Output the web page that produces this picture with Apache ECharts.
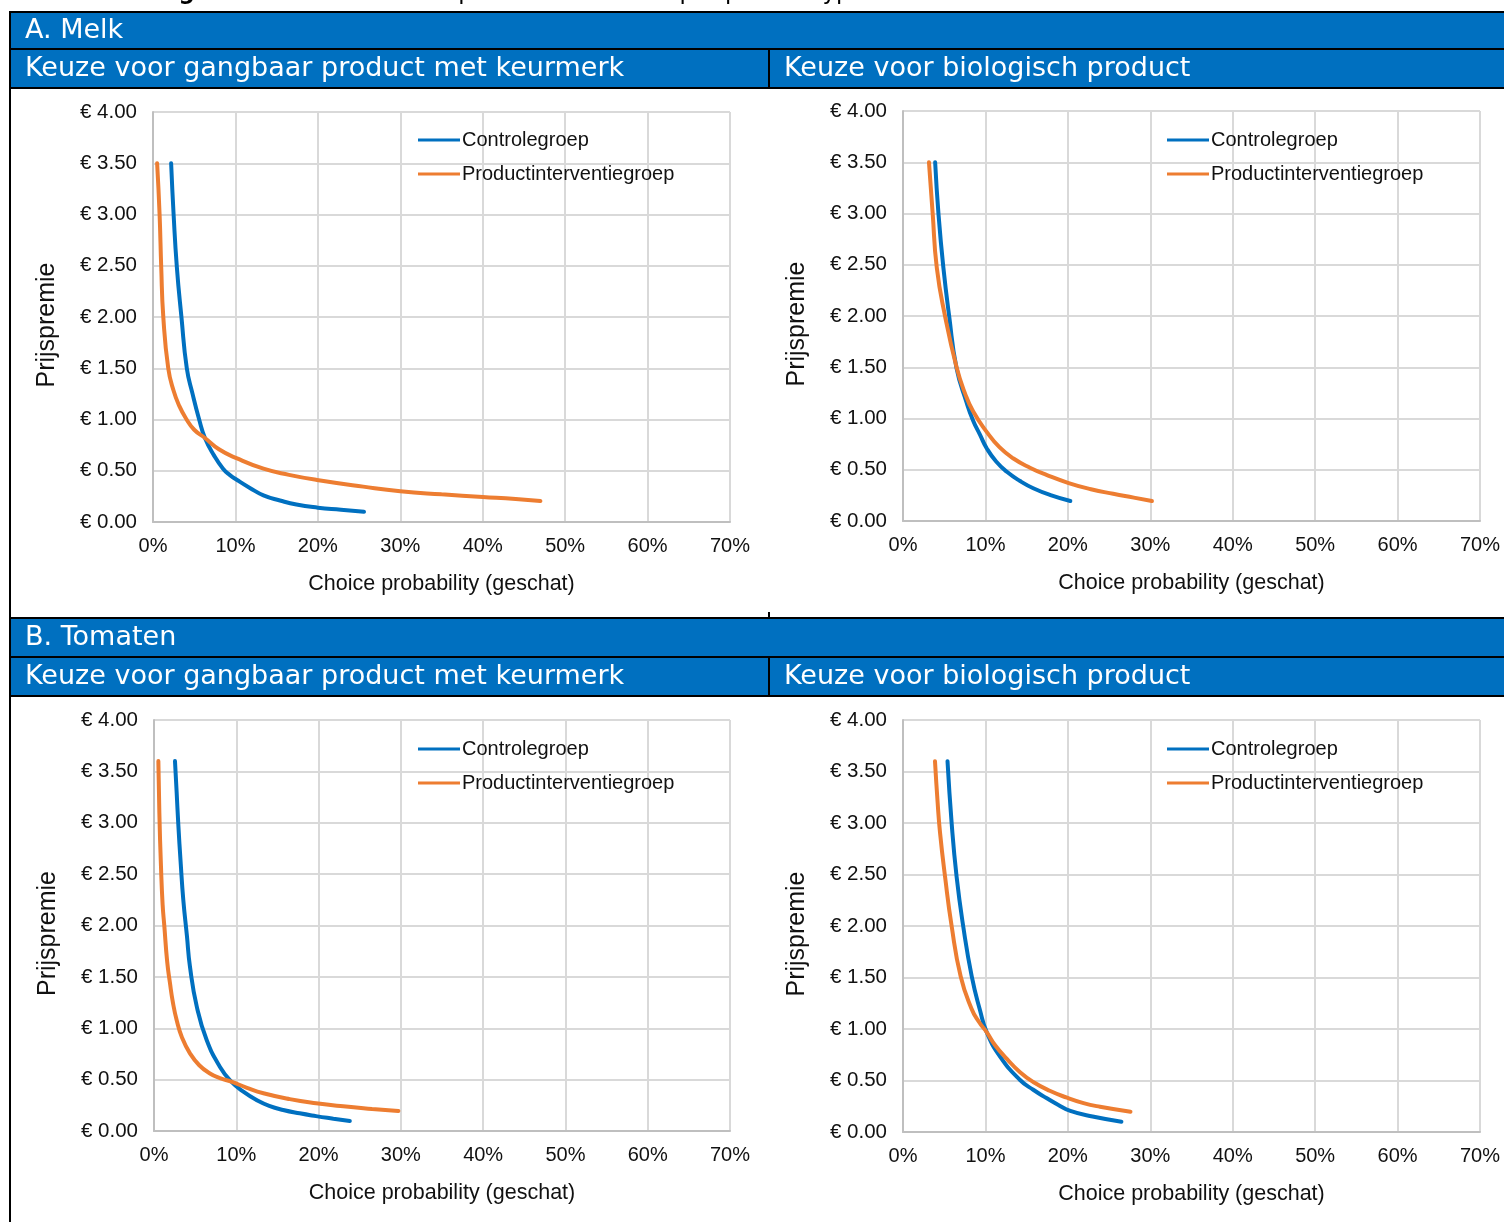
<!DOCTYPE html>
<html>
<head>
<meta charset="utf-8">
<script src="https://cdn.jsdelivr.net/npm/echarts@6/dist/echarts.min.js"></script>
<style>
  html, body { margin: 0; padding: 0; background: #fff; }
  #chart { width: 1504px; height: 1222px; }
</style>
</head>
<body>
<div id="chart"></div>
<script>
// x = choice probability (%), y = prijspremie (euro)
var seriesNames = ['Controlegroep', 'Productinterventiegroep'];
var xTicks = [0, 10, 20, 30, 40, 50, 60, 70];
var yTicks = [0, 0.5, 1, 1.5, 2, 2.5, 3, 3.5, 4];

// A. Melk - gangbaar product met keurmerk
var melkGangbaarControle = [[2.2,3.50],[2.5,3.00],[2.9,2.48],[3.45,2.00],[4.1,1.50],[4.8,1.25],[5.6,1.00],[6.3,0.82],[7.4,0.65],[8.5,0.52],[9.3,0.46],[10.2,0.41],[11.8,0.33],[13.4,0.26],[15.4,0.21],[17.4,0.17],[20.0,0.14],[22.8,0.12],[25.6,0.10]];
var melkGangbaarInterventie = [[0.5,3.50],[0.8,3.00],[1.0,2.48],[1.25,2.00],[1.85,1.50],[2.5,1.28],[3.2,1.13],[4.0,1.01],[5.0,0.90],[6.3,0.82],[8.0,0.71],[10.2,0.62],[13.4,0.52],[16.5,0.46],[19.9,0.41],[25.5,0.345],[30.0,0.30],[35.0,0.27],[40.0,0.245],[44.0,0.225],[47.0,0.205]];

// A. Melk - biologisch product
var melkBioControle = [[3.9,3.50],[4.3,3.00],[4.9,2.47],[5.6,2.00],[6.5,1.49],[7.7,1.16],[8.5,0.98],[9.35,0.84],[10.15,0.71],[11.3,0.58],[12.6,0.48],[14.2,0.39],[15.8,0.32],[18.0,0.25],[20.3,0.195]];
var melkBioInterventie = [[3.15,3.50],[3.6,3.00],[4.1,2.47],[5.1,2.00],[6.5,1.50],[7.5,1.25],[8.5,1.07],[10.15,0.87],[11.7,0.72],[13.4,0.61],[15.4,0.52],[17.4,0.45],[20.1,0.37],[22.8,0.31],[25.5,0.265],[28.0,0.228],[30.2,0.195]];

// B. Tomaten - gangbaar product met keurmerk
var tomGangbaarControle = [[2.55,3.60],[2.75,3.30],[2.95,2.99],[3.25,2.60],[3.56,2.25],[4.0,1.90],[4.37,1.60],[5.2,1.21],[6.4,0.886],[8.0,0.626],[9.4,0.48],[10.9,0.38],[12.5,0.30],[14.0,0.245],[15.7,0.205],[17.7,0.172],[19.7,0.145],[21.8,0.12],[23.8,0.097]];
var tomGangbaarInterventie = [[0.53,3.60],[0.65,3.10],[0.85,2.57],[1.05,2.20],[1.25,2.00],[1.6,1.65],[1.94,1.44],[2.3,1.25],[2.75,1.08],[3.4,0.91],[4.37,0.756],[5.5,0.64],[6.8,0.56],[8.0,0.515],[9.4,0.48],[11.3,0.42],[13.3,0.367],[16.5,0.31],[19.7,0.27],[23.0,0.24],[26.5,0.215],[29.7,0.195]];

// B. Tomaten - biologisch product
var tomBioControle = [[5.4,3.60],[5.9,3.00],[6.5,2.48],[7.3,2.00],[8.34,1.51],[9.35,1.18],[10.15,0.97],[11.8,0.73],[14.2,0.505],[15.8,0.41],[17.4,0.33],[18.8,0.265],[20.3,0.205],[23.0,0.15],[26.5,0.10]];
var tomBioInterventie = [[3.88,3.60],[4.2,3.20],[4.5,2.90],[5.1,2.48],[5.9,2.00],[7.0,1.51],[8.3,1.20],[9.2,1.07],[10.15,0.97],[11.2,0.84],[12.6,0.71],[14.2,0.58],[15.8,0.485],[17.8,0.40],[19.9,0.333],[21.9,0.28],[23.9,0.245],[27.6,0.197]];

var panels = [
    [melkGangbaarControle, melkGangbaarInterventie],
    [melkBioControle, melkBioInterventie],
    [tomGangbaarControle, tomGangbaarInterventie],
    [tomBioControle, tomBioInterventie]
];

var blue = '#0070c0';
var orange = '#ed7d31';
var labelFont = 'Liberation Sans, Arial, sans-serif';
var headFont = 'DejaVu Sans, Verdana, sans-serif';

var grids = [
    {left: 153, top: 112, width: 577, height: 410},
    {left: 903, top: 111, width: 577, height: 410},
    {left: 154, top: 720, width: 576, height: 411},
    {left: 903, top: 720, width: 577, height: 412}
];
var legendPos = [[418, 130], [1167, 130], [418, 739], [1167, 739]];

var xAxes = [], yAxes = [], series = [], legends = [];
for (var i = 0; i < 4; i++) {
    xAxes.push({
        type: 'value', gridIndex: i,
        min: xTicks[0], max: xTicks[xTicks.length - 1], interval: 10,
        axisLabel: {formatter: '{value}%', fontSize: 20, color: '#111', fontFamily: labelFont, margin: 14},
        axisLine: {show: true, lineStyle: {color: '#bfbfbf', width: 2}},
        axisTick: {show: false},
        splitLine: {show: true, lineStyle: {color: '#d9d9d9', width: 2}},
        name: 'Choice probability (geschat)', nameLocation: 'middle', nameGap: 51,
        nameTextStyle: {fontSize: 21.5, color: '#111', fontFamily: labelFont}
    });
    yAxes.push({
        type: 'value', gridIndex: i,
        min: yTicks[0], max: yTicks[yTicks.length - 1], interval: 0.5,
        axisLabel: {formatter: function (v) { return '€ ' + v.toFixed(2); }, fontSize: 20.5, color: '#111', fontFamily: labelFont, margin: 16},
        axisLine: {show: true, lineStyle: {color: '#bfbfbf', width: 2}},
        axisTick: {show: false},
        splitLine: {show: true, lineStyle: {color: '#d9d9d9', width: 2}},
        name: 'Prijspremie', nameLocation: 'middle', nameGap: 93,
        nameTextStyle: {fontSize: 25, color: '#111', fontFamily: labelFont, padding: [0, 16, 0, 0]}
    });
    for (var s = 0; s < 2; s++) {
        series.push({
            name: seriesNames[s], type: 'line',
            xAxisIndex: i, yAxisIndex: i,
            data: panels[i][s],
            smooth: 0.5,
            showSymbol: false, symbol: 'none',
            lineStyle: {width: 4, color: s === 0 ? blue : orange, cap: 'round'},
            itemStyle: {color: s === 0 ? blue : orange}
        });
    }
    legends.push({
        data: seriesNames, orient: 'vertical',
        left: legendPos[i][0], top: legendPos[i][1], padding: 0,
        icon: 'rect', itemWidth: 42, itemHeight: 3, itemGap: 14,
        selectedMode: false,
        textStyle: {fontSize: 20, color: '#111', fontFamily: labelFont, padding: [0, 0, 0, -3]}
    });
}

function band(y, h) {
    return {type: 'rect', shape: {x: 11, y: y, width: 1493, height: h}, style: {fill: blue}, silent: true};
}
function hline(y) {
    return {type: 'rect', shape: {x: 9, y: y, width: 1495, height: 2}, style: {fill: '#000'}, silent: true};
}
function vline(x, y, h) {
    return {type: 'rect', shape: {x: x, y: y, width: 2, height: h}, style: {fill: '#000'}, silent: true};
}
function headText(x, y, t) {
    return {type: 'text', x: x, y: y, silent: true,
        style: {text: t, fill: '#fff', font: '27px ' + headFont, verticalAlign: 'middle'}};
}

var graphics = [
    {type: 'text', x: 155, y: -7, silent: true,
        style: {text: 'Figuur 5.12:', fill: '#000', font: 'bold 23px ' + headFont, verticalAlign: 'middle'}},
    {type: 'text', x: 356, y: -7, silent: true,
        style: {text: 'Effecten productinterventie per producttype', fill: '#000', font: '23px ' + headFont, verticalAlign: 'middle'}},
    band(13, 35), band(50, 38), band(619, 38), band(658, 37),
    hline(11), hline(48), hline(87), hline(617), hline(656), hline(695),
    vline(9, 11, 1211),
    vline(768, 50, 38), vline(768, 658, 37), vline(768, 612, 5),
    headText(25, 31, 'A. Melk'),
    headText(25, 69, 'Keuze voor gangbaar product met keurmerk'),
    headText(784, 69, 'Keuze voor biologisch product'),
    headText(25, 638, 'B. Tomaten'),
    headText(25, 677, 'Keuze voor gangbaar product met keurmerk'),
    headText(784, 677, 'Keuze voor biologisch product')
];

var myChart = echarts.init(document.getElementById('chart'));
myChart.setOption({
    animation: false,
    backgroundColor: '#fff',
    grid: grids,
    xAxis: xAxes,
    yAxis: yAxes,
    legend: legends,
    series: series,
    graphic: graphics
});
</script>
</body>
</html>
